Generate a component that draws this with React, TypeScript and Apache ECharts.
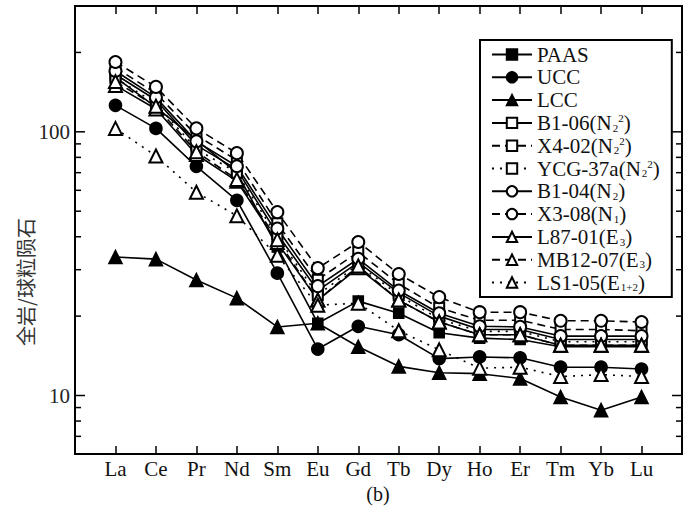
import React, { useEffect, useRef } from 'react';
import * as echarts from 'echarts';

const elements = ['La', 'Ce', 'Pr', 'Nd', 'Sm', 'Eu', 'Gd', 'Tb', 'Dy', 'Ho', 'Er', 'Tm', 'Yb', 'Lu'];

const paas = [161, 124, 93, 70, 36.6, 18.8, 22.8, 20.5, 17.3, 16.5, 16.3, 15.3, 15.3, 15.3];
const ucc = [126, 103, 74, 55, 29.1, 15, 18.3, 17, 13.8, 14, 13.9, 12.8, 12.8, 12.6];
const lcc = [33.5, 32.9, 27.4, 23.4, 18.2, 18.8, 15.3, 12.9, 12.2, 12.1, 11.6, 9.87, 8.8, 9.87];
const b106 = [165, 132, 89, 72, 41, 25, 32, 24.5, 20, 17.8, 17.8, 16.3, 16.3, 16.3];
const x402 = [175, 140, 97, 78, 45, 27.5, 35, 26.5, 21.5, 19.3, 19.3, 17.8, 17.8, 17.6];
const ycg37a = [160, 128, 86, 70, 40, 24, 31.5, 24, 19.5, 17.5, 17.5, 16, 16, 16];
const b104 = [170, 135, 92, 74, 43, 26, 33, 25, 20.5, 18.3, 18.2, 16.8, 16.8, 16.8];
const x308 = [184, 148, 103, 83, 49.6, 30.4, 38.2, 28.9, 23.6, 20.7, 20.7, 19.2, 19.2, 19];
const l8701 = [150, 122, 82, 65, 38, 23, 30.5, 23, 19, 17, 17, 15.5, 15.5, 15.5];
const mb1207 = [155, 125, 84, 66, 39, 23, 31, 23, 19, 17, 17, 15.5, 15.5, 15.5];
const ls105 = [103, 81, 59, 48, 34, 22, 22.4, 17.6, 14.9, 12.7, 12.8, 11.8, 12, 11.8];

const yMajorTicks = [10, 100];
const yMinorTicks = [7, 8, 9, 20, 30, 40, 50, 60, 70, 80, 90, 200];
const yLabels = ['10', '100'];

const FONT = 'Liberation Serif';

type Def = { name: string; label: string; data: number[]; symbol: string; size: number; dash: string };

const defs: Def[] = [
  { name: 'PAAS', label: '{n|PAAS}', data: paas, symbol: 'rect', size: 10, dash: 'solid' },
  { name: 'UCC', label: '{n|UCC}', data: ucc, symbol: 'circle', size: 12, dash: 'solid' },
  { name: 'LCC', label: '{n|LCC}', data: lcc, symbol: 'triangle', size: 13, dash: 'solid' },
  { name: 'B1-06', label: '{n|B1-06(N}{sub|2}{sup|2}{n|)}', data: b106, symbol: 'emptyRect', size: 10, dash: 'solid' },
  { name: 'X4-02', label: '{n|X4-02(N}{sub|2}{sup|2}{n|)}', data: x402, symbol: 'emptyRect', size: 10, dash: 'dashed' },
  { name: 'YCG-37a', label: '{n|YCG-37a(N}{sub|2}{sup|2}{n|)}', data: ycg37a, symbol: 'emptyRect', size: 10, dash: 'dotted' },
  { name: 'B1-04', label: '{n|B1-04(N}{sub|2}{n|)}', data: b104, symbol: 'emptyCircle', size: 12, dash: 'solid' },
  { name: 'X3-08', label: '{n|X3-08(N}{sub|1}{n|)}', data: x308, symbol: 'emptyCircle', size: 12, dash: 'dashed' },
  { name: 'L87-01', label: '{n|L87-01(E}{sub|3}{n|)}', data: l8701, symbol: 'emptyTriangle', size: 13, dash: 'solid' },
  { name: 'MB12-07', label: '{n|MB12-07(E}{sub|3}{n|)}', data: mb1207, symbol: 'emptyTriangle', size: 13, dash: 'dashed' },
  { name: 'LS1-05', label: '{n|LS1-05(E}{sub|1+2}{n|)}', data: ls105, symbol: 'emptyTriangle', size: 13, dash: 'dotted' },
];

function dashOf(d: string): any {
  if (d === 'dashed') return [8, 5];
  if (d === 'dotted') return [2, 6];
  return 'solid';
}

export default function App() {
  const ref = useRef<HTMLDivElement>(null);
  useEffect(() => {
    document.body.style.margin = '0';
    const chart = echarts.init(ref.current!, null, { renderer: 'svg' });
    const labelMap: Record<string, string> = {};
    defs.forEach((d) => (labelMap[d.name] = d.label));

    const lineSeries = defs.map((d) => ({
      type: 'line',
      name: d.name,
      data: d.data.map((v, i) => [i, v]),
      symbol: d.symbol,
      symbolSize: d.size,
      showSymbol: true,
      itemStyle: { color: '#000', borderColor: '#000', borderWidth: 1.6 },
      lineStyle: { color: '#000', width: 1.6, type: dashOf(d.dash) },
      z: 3,
    }));

    const tickData = [
      ...yMinorTicks.map((v) => [0, v, 6]),
      ...yMajorTicks.map((v) => [0, v, 10]),
    ];

    const option: any = {
      animation: false,
      backgroundColor: '#fff',
      grid: { left: 75, right: 5, top: 6, bottom: 57, show: true, borderColor: '#000', borderWidth: 2, backgroundColor: 'transparent' },
      legend: {
        orient: 'vertical',
        left: 480,
        top: 40,
        data: defs.map((d) => d.name),
        formatter: (name: string) => labelMap[name],
        itemWidth: 40,
        itemHeight: 13,
        itemGap: 1.8,
        padding: [4, 12, 4, 11],
        borderColor: '#000',
        borderWidth: 2,
        backgroundColor: '#fff',
        textStyle: {
          color: '#111',
          fontFamily: FONT,
          fontSize: 21,
          lineHeight: 20.5,
          rich: {
            n: { fontFamily: FONT, fontSize: 21, color: '#111', lineHeight: 20.5 },
            sub: { fontFamily: FONT, fontSize: 11, color: '#111', verticalAlign: 'bottom', lineHeight: 11, padding: [0, 0, 0, 1] },
            sup: { fontFamily: FONT, fontSize: 11, color: '#111', verticalAlign: 'top', lineHeight: 11 },
          },
        },
      },
      xAxis: [
        {
          type: 'value',
          min: -1,
          max: 14,
          interval: 1,
          position: 'bottom',
          axisLine: { show: false },
          axisTick: { show: true, inside: true, length: 8, lineStyle: { color: '#000', width: 1.5 } },
          axisLabel: {
            formatter: (v: number) => (elements[Math.round(v)] !== undefined && Math.abs(v - Math.round(v)) < 1e-6 ? elements[Math.round(v)] : ''),
            fontFamily: FONT,
            fontSize: 21,
            color: '#111',
            margin: 4,
          },
          splitLine: { show: false },
        },
        {
          type: 'value',
          min: -1,
          max: 14,
          interval: 1,
          position: 'top',
          axisLine: { show: false },
          axisTick: { show: true, inside: true, length: 8, lineStyle: { color: '#000', width: 1.5 } },
          axisLabel: { show: false },
          splitLine: { show: false },
        },
      ],
      yAxis: {
        type: 'log',
        logBase: 10,
        min: 6,
        max: 300,
        axisLine: { show: false },
        axisTick: { show: false },
        splitLine: { show: false },
        axisLabel: {
          formatter: (v: number) => {
            const i = yMajorTicks.findIndex((t) => Math.abs(t - v) < 1e-6 * t);
            return i >= 0 ? yLabels[i] : '';
          },
          fontFamily: FONT,
          fontSize: 21,
          color: '#222',
          margin: 5,
        },
      },
      graphic: [
        {
          type: 'text',
          x: 25,
          y: 282,
          rotation: Math.PI / 2,
          style: {
            text: '全岩/球粒陨石',
            fontFamily: 'Noto Sans CJK SC',
            fontSize: 20,
            fill: '#333',
            align: 'center',
            verticalAlign: 'middle',
          },
        },
        {
          type: 'text',
          x: 378,
          y: 494,
          style: { text: '(b)', fontFamily: FONT, fontSize: 20, fill: '#111', align: 'center', verticalAlign: 'middle' },
        },
      ],
      series: [
        ...lineSeries,
        {
          type: 'custom',
          name: 'yticks',
          silent: true,
          xAxisIndex: 0,
          yAxisIndex: 0,
          data: tickData,
          renderItem: (params: any, api: any) => {
            const v = api.value(1);
            const len = api.value(2);
            const pt = api.coord([0, v]);
            const cs = params.coordSys;
            const st = { stroke: '#000', lineWidth: 1.5 };
            return {
              type: 'group',
              children: [
                { type: 'line', shape: { x1: cs.x, y1: pt[1], x2: cs.x + len, y2: pt[1] }, style: st },
                { type: 'line', shape: { x1: cs.x + cs.width, y1: pt[1], x2: cs.x + cs.width - len, y2: pt[1] }, style: st },
              ],
            };
          },
          z: 5,
        },
      ],
    };
    chart.setOption(option);
    return () => chart.dispose();
  }, []);
  return <div ref={ref} style={{ width: 687, height: 511 }} />;
}
